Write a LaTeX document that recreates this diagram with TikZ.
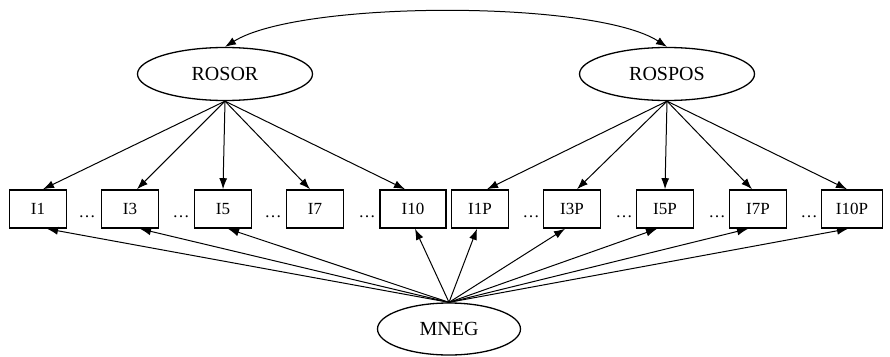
\documentclass[tikz,border=0pt]{standalone}
\usepackage{fontspec}
\setmainfont{Liberation Serif}
\usetikzlibrary{shapes.geometric,arrows.meta}
\begin{document}
\begin{tikzpicture}[x=1pt,y=-1pt]
    \tikzstyle{arrow} = [line width=1pt, -{Latex[length=11pt,width=8pt]}]
    \tikzstyle{twoway} = [line width=1pt, {Latex[length=11pt,width=8pt]}-{Latex[length=11pt,width=8pt]}]
    \tikzstyle{latent} = [ellipse, draw = black, line width=1.3pt, minimum width=175pt, minimum height=53pt, inner sep=0pt, font=\fontsize{20}{22}\selectfont]
    \tikzstyle{item} = [rectangle, draw = black, line width=1.6pt, minimum width=57pt, minimum height=38pt, inner sep=2pt, font=\fontsize{17}{19}\selectfont]
    \tikzstyle{gap} = [anchor=base, inner sep=0pt, font=\fontsize{17}{19}\selectfont]
    \useasboundingbox (0,0) rectangle (890,356);

    \node[latent](ROSOR) at (225,74){ROSOR};
    \node[latent](ROSPOS) at (667,74){ROSPOS};
    \node[latent, minimum width=143pt, minimum height=52pt](MNEG) at (449,329){MNEG};

    \node[item](I1) at (38,209){I1};
    \node[item](I3) at (130,209){I3};
    \node[item](I5) at (223,209){I5};
    \node[item](I7) at (315,209){I7};
    \node[item, minimum width=66pt](I10) at (413,209){I10};
    \node[item](I1P) at (480,209){I1P};
    \node[item](I3P) at (572,209){I3P};
    \node[item](I5P) at (665,209){I5P};
    \node[item](I7P) at (758,209){I7P};
    \node[item, minimum width=61pt](I10P) at (852,209){I10P};

    \node[gap](d1) at (87,217){\dots};
    \node[gap](d2) at (181,217){\dots};
    \node[gap](d3) at (273,217){\dots};
    \node[gap](d4) at (367,217){\dots};
    \node[gap](d5) at (531,217){\dots};
    \node[gap](d6) at (624,217){\dots};
    \node[gap](d7) at (717,217){\dots};
    \node[gap](d8) at (809,217){\dots};

    \draw[twoway](ROSOR.north) .. controls (300,0) and (595,0) .. (ROSPOS.north);

    \draw[arrow](ROSOR.south)--([xshift=5pt]I1.north);
    \draw[arrow](ROSOR.south)--([xshift=7pt]I3.north);
    \draw[arrow](ROSOR.south)--(I5.north);
    \draw[arrow](ROSOR.south)--([xshift=-5pt]I7.north);
    \draw[arrow](ROSOR.south)--([xshift=-8pt]I10.north);

    \draw[arrow](ROSPOS.south)--([xshift=7pt]I1P.north);
    \draw[arrow](ROSPOS.south)--([xshift=5pt]I3P.north);
    \draw[arrow](ROSPOS.south)--(I5P.north);
    \draw[arrow](ROSPOS.south)--([xshift=-6pt]I7P.north);
    \draw[arrow](ROSPOS.south)--([xshift=-5pt]I10P.north);

    \draw[arrow](MNEG.north)--([xshift=9pt]I1.south);
    \draw[arrow](MNEG.north)--([xshift=10pt]I3.south);
    \draw[arrow](MNEG.north)--([xshift=5pt]I5.south);
    \draw[arrow](MNEG.north)--([xshift=2pt]I10.south);
    \draw[arrow](MNEG.north)--([xshift=-3pt]I1P.south);
    \draw[arrow](MNEG.north)--([xshift=-7pt]I3P.south);
    \draw[arrow](MNEG.north)--([xshift=-8pt]I5P.south);
    \draw[arrow](MNEG.north)--([xshift=-10pt]I7P.south);
    \draw[arrow](MNEG.north)--([xshift=-4pt]I10P.south);

\end{tikzpicture}
\end{document}
